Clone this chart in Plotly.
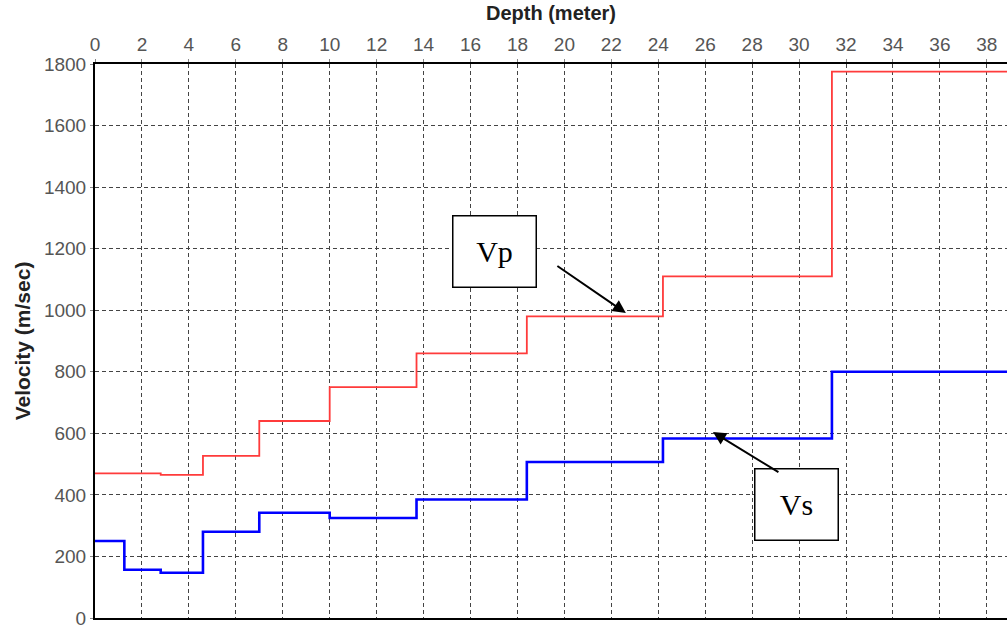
import plotly.graph_objects as go

# Layer boundaries (depth, m) and velocities (m/s)
vp_depth = [0, 2.8, 4.6, 7.0, 10.0, 13.7, 18.4, 24.2, 31.4, 38.9]
vp_vel = [470, 465, 527, 640, 750, 860, 980, 1110, 1775, 1775]

vs_depth = [0, 1.25, 2.8, 4.6, 7.0, 10.0, 13.7, 18.4, 24.2, 31.4, 38.9]
vs_vel = [250, 157, 147, 280, 342, 325, 385, 507, 583, 800, 800]

x_ticks = list(range(0, 40, 2))
y_ticks = list(range(0, 2000, 200))

fig = go.Figure()
fig.add_trace(go.Scatter(x=vp_depth, y=vp_vel, mode="lines", line_shape="hv",
                         line=dict(color="#ff3b3b", width=1.8), name="Vp",
                         showlegend=False))
fig.add_trace(go.Scatter(x=vs_depth, y=vs_vel, mode="lines", line_shape="hv",
                         line=dict(color="#0000ff", width=2.6), name="Vs",
                         showlegend=False))

tickfont = dict(family="Liberation Sans, Arial", size=19, color="#555555")
titlefont = dict(family="Liberation Sans, Arial", size=20, color="#222222", weight="bold")

fig.update_layout(
    width=1007, height=626,
    margin=dict(l=95, r=0, t=64, b=8),
    paper_bgcolor="white", plot_bgcolor="white",
    xaxis=dict(side="top", range=[0, 38.86], tickvals=x_ticks, automargin=False,
               showgrid=True, gridcolor="#444444", griddash="4px,3px", gridwidth=1,
               showline=True, linecolor="black", linewidth=2, mirror=True,
               ticks="outside", ticklen=3, tickcolor="#888888",
               tickfont=tickfont, zeroline=False, ticklabeloverflow="allow",
               title=dict(text="Depth (meter)", font=titlefont, standoff=8)),
    yaxis=dict(range=[0, 1800], tickvals=y_ticks, automargin=False,
               showgrid=True, gridcolor="#444444", griddash="4px,3px", gridwidth=1,
               showline=True, linecolor="black", linewidth=2, mirror=False,
               ticks="outside", ticklen=3, tickcolor="#888888",
               tickfont=tickfont, zeroline=False, ticklabeloverflow="allow",
               title=dict(text="Velocity (m/sec)", font=dict(family="Liberation Sans, Arial", size=21, color="#222222", weight="bold"), standoff=8)),
)

boxfont = dict(family="Liberation Serif, Times New Roman", size=30, color="black")
fig.add_annotation(x=17.04, y=1192, xref="x", yref="y", text="Vp", showarrow=False,
                   font=boxfont, bgcolor="white", bordercolor="black", borderwidth=1.5,
                   width=80, height=68)
fig.add_annotation(x=29.89, y=369, xref="x", yref="y", text="Vs", showarrow=False,
                   font=boxfont, bgcolor="white", bordercolor="black", borderwidth=1.5,
                   width=80, height=68)
fig.add_annotation(x=22.62, y=991, xref="x", yref="y", text="", showarrow=True,
                   ax=-70, ay=-48, arrowhead=2, arrowsize=1.3, arrowwidth=2, arrowcolor="black")
fig.add_annotation(x=26.33, y=604, xref="x", yref="y", text="", showarrow=True,
                   ax=67, ay=41, arrowhead=2, arrowsize=1.3, arrowwidth=2, arrowcolor="black")

fig.write_html("out.html")
